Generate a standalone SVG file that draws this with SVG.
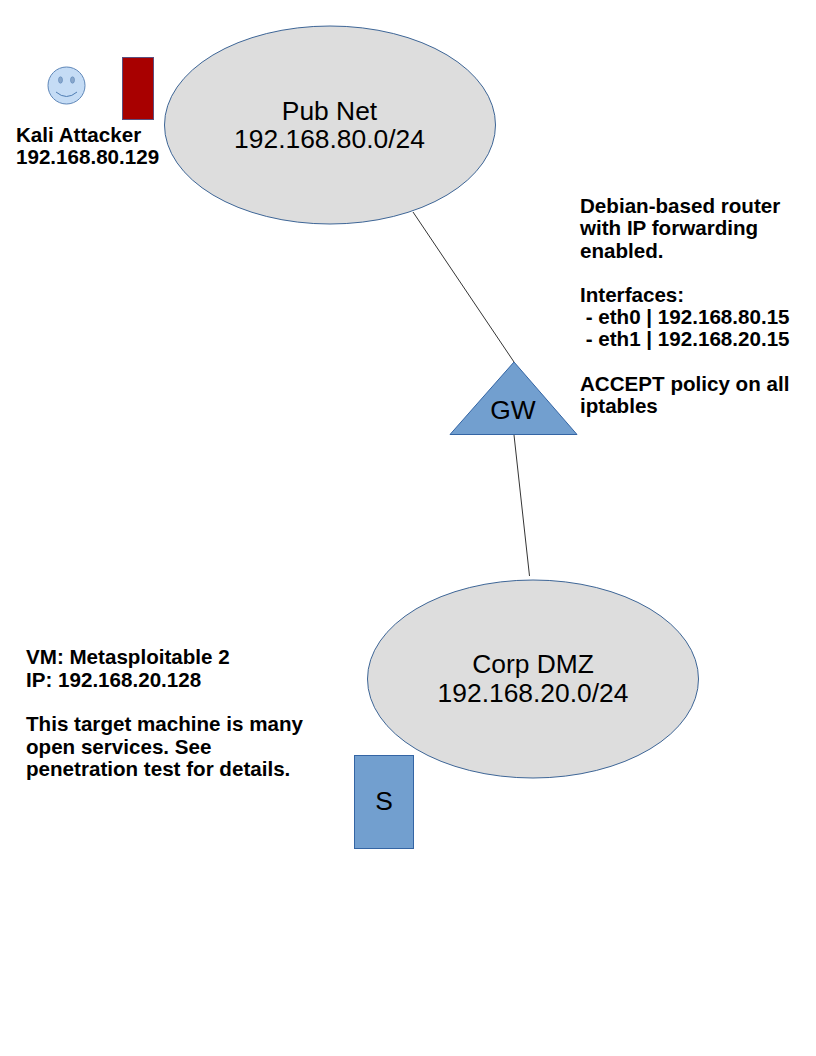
<svg xmlns="http://www.w3.org/2000/svg" width="816" height="1056" viewBox="0 0 816 1056">
<style>
text{font-family:"Liberation Sans",Arial,sans-serif;fill:#000}
.big{font-size:26.400px;text-anchor:middle}
.lbl{font-size:20.600px;font-weight:700}
.net{fill:#dddddd;stroke:#3d6596;stroke-width:1}
.blue{fill:#729fcf;stroke:#3465a4;stroke-width:1}
</style>
<rect width="816" height="1056" fill="#fff"/>
<g id="connectors" stroke="#000" stroke-width=".8" fill="none">
<line x1="413" y1="212" x2="514" y2="362"/>
<line x1="514" y1="435" x2="529.500" y2="576"/>
</g>
<g id="pubnet">
<ellipse class="net" cx="330" cy="125" rx="165.500" ry="99"/>
<text class="big" x="329.500" y="120">Pub Net</text>
<text class="big" x="329.500" y="148">192.168.80.0/24</text>
</g>
<g id="gw">
<polygon class="blue" points="514,362 577,434.500 450,434.500"/>
<text class="big" x="513" y="419">GW</text>
</g>
<g id="corp">
<ellipse class="net" cx="533" cy="679" rx="165.500" ry="99"/>
<text class="big" x="533" y="673">Corp DMZ</text>
<text class="big" x="533" y="702">192.168.20.0/24</text>
</g>
<g id="server">
<rect class="blue" x="354.500" y="755.500" width="59" height="93"/>
<text class="big" x="384" y="810">S</text>
</g>
<g id="attacker-icon">
<circle cx="66.500" cy="85.500" r="18.500" fill="#c5dcf5" stroke="#5d86b8" stroke-width="1"/>
<ellipse cx="60.500" cy="80" rx="2" ry="3.200" fill="#8aa8cc" stroke="#5d86b8" stroke-width=".6"/>
<ellipse cx="72.500" cy="80" rx="2" ry="3.200" fill="#8aa8cc" stroke="#5d86b8" stroke-width=".6"/>
<path d="M56 92Q66.500 101 77 92" fill="none" stroke="#4f7db3" stroke-width="1"/>
</g>
<g id="attacker-box">
<rect x="122.500" y="57.500" width="31" height="62" fill="#a80000" stroke="#5b4f7f" stroke-width="1"/>
</g>
<g id="attacker-label">
<text class="lbl" x="16" y="142">Kali Attacker</text>
<text class="lbl" x="16" y="164">192.168.80.129</text>
</g>
<g id="router-note">
<text class="lbl" x="580" y="213">Debian-based router</text>
<text class="lbl" x="580" y="235">with IP forwarding</text>
<text class="lbl" x="580" y="257.500">enabled.</text>
<text class="lbl" x="580" y="302">Interfaces:</text>
<text class="lbl" x="580" y="324" xml:space="preserve"> - eth0 | 192.168.80.15</text>
<text class="lbl" x="580" y="346" xml:space="preserve"> - eth1 | 192.168.20.15</text>
<text class="lbl" x="580" y="391">ACCEPT policy on all</text>
<text class="lbl" x="580" y="413">iptables</text>
</g>
<g id="target-note">
<text class="lbl" x="26" y="664">VM: Metasploitable 2</text>
<text class="lbl" x="26" y="687">IP: 192.168.20.128</text>
<text class="lbl" x="26" y="731">This target machine is many</text>
<text class="lbl" x="26" y="753.500">open services. See</text>
<text class="lbl" x="26" y="776">penetration test for details.</text>
</g>
</svg>
